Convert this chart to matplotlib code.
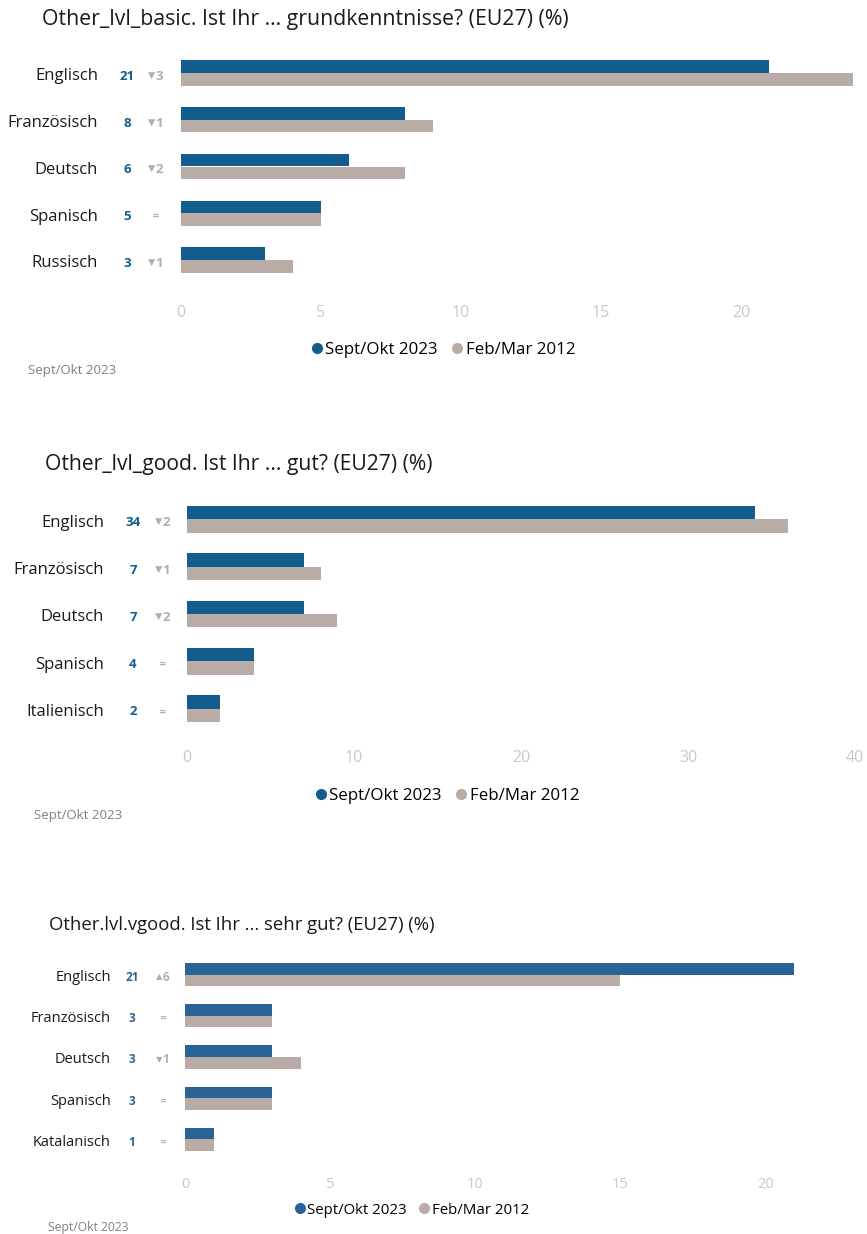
import matplotlib
matplotlib.use("Agg")
import matplotlib.pyplot as plt
import matplotlib.transforms as mtrans
from matplotlib.lines import Line2D

plt.rcParams['font.family'] = ['Open Sans', 'DejaVu Sans']

# ---- data ----
titles = [
    "Other_lvl_basic. Ist Ihr ... grundkenntnisse? (EU27) (%)",
    "Other_lvl_good. Ist Ihr ... gut? (EU27) (%)",
    "Other.lvl.vgood. Ist Ihr ... sehr gut? (EU27) (%)",
]
cats1 = ["Englisch", "Französisch", "Deutsch", "Spanisch", "Russisch"]
v2023_1 = [21, 8, 6, 5, 3]
v2012_1 = [24, 9, 8, 5, 4]
chg1 = [("down", "3"), ("down", "1"), ("down", "2"), ("eq", ""), ("down", "1")]

cats2 = ["Englisch", "Französisch", "Deutsch", "Spanisch", "Italienisch"]
v2023_2 = [34, 7, 7, 4, 2]
v2012_2 = [36, 8, 9, 4, 2]
chg2 = [("down", "2"), ("down", "1"), ("down", "2"), ("eq", ""), ("eq", "")]

cats3 = ["Englisch", "Französisch", "Deutsch", "Spanisch", "Katalanisch"]
v2023_3 = [21, 3, 3, 3, 1]
v2012_3 = [15, 3, 4, 3, 1]
chg3 = [("up", "6"), ("eq", ""), ("down", "1"), ("eq", ""), ("eq", "")]

ticks1 = [0, 5, 10, 15, 20]
ticks2 = [0, 10, 20, 30, 40]
ticks3 = [0, 5, 10, 15, 20]
series_names = ["Sept/Okt 2023", "Feb/Mar 2012"]
footnote = "Sept/Okt 2023"

W, H = 867, 1234
fig = plt.figure(figsize=(W / 100, H / 100), dpi=100)

GRAY = "#b9aca6"
TICKC = "#c8c8c8"
SYM = {"down": "▼", "up": "▲"}


def px_axes(left, top, right, bottom):
    return fig.add_axes([left / W, 1 - bottom / H, (right - left) / W, (bottom - top) / H])


def panel(box, xlim, cats, a, b, chg, ticks, blue, title, title_xy, title_fs,
          lab_x, num_x, chg_x, lab_fs, num_fs, tick_fs, tick_pad,
          leg_xy, leg_fs, foot_xy, foot_fs, bar_h):
    ax = px_axes(*box)
    y = list(range(len(cats)))
    ax.barh([i - bar_h / 2 for i in y], a, height=bar_h, color=blue)
    ax.barh([i + bar_h / 2 for i in y], b, height=bar_h, color=GRAY)
    ax.set_xlim(*xlim)
    ax.set_ylim(len(cats) - 0.4, -0.6)
    ax.set_yticks([])
    ax.set_xticks(ticks)
    ax.tick_params(axis='x', length=0, colors=TICKC, labelsize=tick_fs, pad=tick_pad)
    for s in ax.spines.values():
        s.set_visible(False)
    tr = mtrans.blended_transform_factory(fig.transFigure, ax.transData)
    for i, c in enumerate(cats):
        yy = i + 0.07
        ax.text(lab_x / W, yy, c, transform=tr, ha='right', va='center',
                fontsize=lab_fs, color="#1a1a1a")
        ax.text(num_x / W, yy, str(a[i]), transform=tr, ha='center', va='center',
                fontsize=num_fs, color=blue, fontweight='bold')
        kind, val = chg[i]
        if kind == "eq":
            ax.text(chg_x / W, yy, "=", transform=tr, ha='center', va='center',
                    fontsize=num_fs * 0.7, color=GRAY, fontweight='bold', family='DejaVu Sans')
        else:
            ax.text((chg_x - 0.5) / W, yy - 0.02, SYM[kind], transform=tr, ha='right', va='center',
                    fontsize=num_fs * 0.72, color=GRAY, family='DejaVu Sans')
            ax.text((chg_x - 0.5) / W, yy, val, transform=tr, ha='left', va='center',
                    fontsize=num_fs, color=GRAY, fontweight='bold')
    fig.text(title_xy[0] / W, 1 - title_xy[1] / H, title, ha='left', va='center',
             fontsize=title_fs, color="#1a1a1a")
    handles = [Line2D([], [], marker='o', linestyle='', color=blue, markersize=7),
               Line2D([], [], marker='o', linestyle='', color=GRAY, markersize=7)]
    fig.legend(handles, series_names, loc='center', bbox_to_anchor=(leg_xy[0] / W, 1 - leg_xy[1] / H),
               ncol=2, frameon=False, fontsize=leg_fs, handletextpad=0.05, columnspacing=0.7,
               handlelength=0.9)
    fig.text(foot_xy[0] / W, 1 - foot_xy[1] / H, footnote, ha='left', va='center',
             fontsize=foot_fs, color="#808080")


panel((181, 45, 853, 288), (0, 24), cats1, v2023_1, v2012_1, chg1, ticks1, "#125d8e",
      titles[0], (42, 20), 15.3, 98, 127, 156, 12, 9.5, 11.5, 12,
      (442, 350), 12.2, (28, 370), 9.5, 0.27)
panel((187, 491, 855, 737), (0, 40), cats2, v2023_2, v2012_2, chg2, ticks2, "#125d8e",
      titles[1], (45, 465), 15.2, 104, 133, 163, 12, 9.5, 11.5, 9,
      (446, 796), 12.2, (34, 815), 9.5, 0.28)
panel((185, 950, 806, 1164), (0, 21.4), cats3, v2023_3, v2012_3, chg3, ticks3, "#2a6496",
      titles[2], (49, 925), 13.3, 111, 132, 163, 10.5, 8.5, 10.5, 9,
      (411, 1210), 10.8, (48, 1227), 8.7, 0.28)

fig.savefig("out.png", dpi=100)
